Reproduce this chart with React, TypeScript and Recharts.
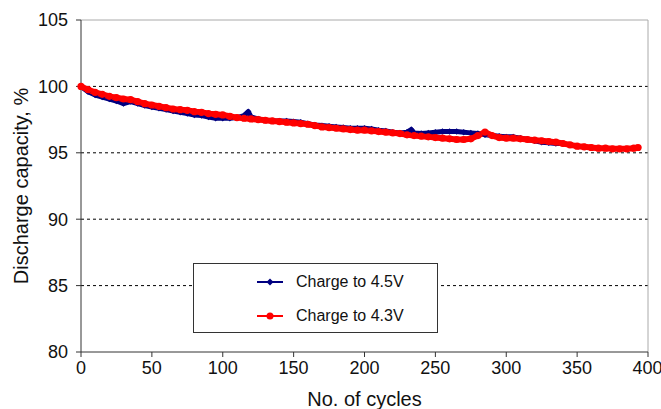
import React from "react";
import {
  LineChart,
  Line,
  XAxis,
  YAxis,
  ReferenceLine,
  Legend,
} from "recharts";

const FONT = "'Liberation Sans', Arial, sans-serif";
const BLUE = "#000080";
const RED = "#ff0000";

// cycle numbers and discharge capacity (%)
const blueCycles = [
  0, 5, 10, 15, 20, 25, 30, 35, 40, 45, 50, 55, 60, 65, 70, 75, 80, 85, 90, 95,
  100, 105, 110, 115, 118, 120, 125, 130, 135, 140, 145, 150, 155, 160, 165, 170,
  175, 180, 185, 190, 195, 200, 205, 210, 215, 220, 225, 230, 233, 235, 240, 245,
  250, 255, 260, 265, 270, 275, 280, 285, 290, 295, 300, 305, 310, 315, 320, 325,
  330, 335, 340,
];
const blueValues = [
  100.0, 99.6, 99.35, 99.2, 99.05, 98.9, 98.7, 98.85, 98.7, 98.55, 98.45, 98.35,
  98.25, 98.15, 98.05, 97.95, 97.85, 97.8, 97.7, 97.6, 97.6, 97.6, 97.65, 97.8,
  98.1, 97.7, 97.55, 97.45, 97.4, 97.4, 97.4, 97.35, 97.3, 97.2, 97.1, 97.05, 97.0,
  96.95, 96.9, 96.85, 96.85, 96.85, 96.8, 96.7, 96.65, 96.55, 96.5, 96.55, 96.75,
  96.5, 96.45, 96.5, 96.55, 96.6, 96.6, 96.6, 96.55, 96.5, 96.45, 96.35, 96.3,
  96.25, 96.2, 96.2, 96.1, 96.0, 95.9, 95.8, 95.75, 95.7, 95.7,
];

const redCycles = [
  0, 5, 10, 15, 20, 25, 30, 35, 40, 45, 50, 55, 60, 65, 70, 75, 80, 85, 90, 95,
  100, 105, 110, 115, 120, 125, 130, 135, 140, 145, 150, 155, 160, 165, 170, 175,
  180, 185, 190, 195, 200, 205, 210, 215, 220, 225, 230, 235, 240, 245, 250, 255,
  260, 265, 270, 275, 280, 285, 290, 295, 300, 305, 310, 315, 320, 325, 330, 335,
  340, 345, 350, 355, 360, 365, 370, 375, 380, 385, 390, 393,
];
const redValues = [
  100.0, 99.75, 99.55, 99.4, 99.25, 99.15, 99.05, 99.0, 98.85, 98.7, 98.6, 98.5,
  98.4, 98.3, 98.25, 98.2, 98.1, 98.05, 97.95, 97.9, 97.85, 97.75, 97.65, 97.6,
  97.55, 97.5, 97.45, 97.4, 97.35, 97.3, 97.25, 97.2, 97.15, 97.05, 96.95, 96.9,
  96.85, 96.8, 96.75, 96.7, 96.7, 96.65, 96.6, 96.55, 96.5, 96.45, 96.35, 96.3,
  96.25, 96.2, 96.15, 96.1, 96.05, 96.0, 96.0, 96.05, 96.3, 96.55, 96.3, 96.15,
  96.1, 96.1, 96.05, 96.0, 95.95, 95.9, 95.85, 95.8, 95.7, 95.6, 95.5, 95.45, 95.4,
  95.35, 95.35, 95.3, 95.3, 95.3, 95.35, 95.4,
];

const xTicks = [0, 50, 100, 150, 200, 250, 300, 350, 400];
const yTicks = [80, 85, 90, 95, 100, 105];
const gridValues = [85, 90, 95, 100];

const blueData = blueCycles.map((x, i) => ({ x, y: blueValues[i] }));
const redData = redCycles.map((x, i) => ({ x, y: redValues[i] }));

function Diamond(props: any) {
  const { cx, cy, size = 3, fill = BLUE } = props;
  if (cx == null || cy == null) return null;
  return (
    <path
      d={`M${cx},${cy - size} L${cx + size},${cy} L${cx},${cy + size} L${cx - size},${cy} Z`}
      fill={fill}
    />
  );
}

function LegendBox() {
  const rows = [
    { label: "Charge to 4.5V", color: BLUE, shape: "diamond" },
    { label: "Charge to 4.3V", color: RED, shape: "circle" },
  ];
  return (
    <div
      style={{
        width: 243,
        height: 68,
        border: "1px solid #333",
        background: "#fff",
        fontFamily: FONT,
        fontSize: 16,
        color: "#111",
        position: "relative",
      }}
    >
      {rows.map((r, i) => (
        <div
          key={r.label}
          style={{
            position: "absolute",
            left: 62,
            top: 8 + i * 34,
            height: 20,
            display: "flex",
            alignItems: "center",
          }}
        >
          <svg width={28} height={10} style={{ marginRight: 12 }}>
            <line x1={1} y1={5} x2={27} y2={5} stroke={r.color} strokeWidth={2} />
            {r.shape === "diamond" ? (
              <Diamond cx={14} cy={5} size={3.5} fill={r.color} />
            ) : (
              <circle cx={14} cy={5} r={3.5} fill={r.color} />
            )}
          </svg>
          <span>{r.label}</span>
        </div>
      ))}
    </div>
  );
}

export default function App() {
  return (
    <div style={{ position: "absolute", left: 0, top: 0, background: "#fff" }}>
      <LineChart
        width={661}
        height={409}
        margin={{ top: 20, right: 13, bottom: 0, left: 0 }}
      >
        <XAxis
          dataKey="x"
          type="number"
          domain={[0, 400]}
          ticks={xTicks}
          height={57}
          tickSize={5}
          tickMargin={4}
          stroke="#333"
          tick={{ fill: "#111", fontSize: 18, fontFamily: FONT }}
          label={{
            value: "No. of cycles",
            position: "center",
            dy: 18,
            style: { fill: "#111", fontSize: 20, fontFamily: FONT },
          }}
        />
        <YAxis
          type="number"
          domain={[80, 105]}
          ticks={yTicks}
          width={81}
          tickSize={5}
          tickMargin={8}
          stroke="#333"
          tick={{ fill: "#111", fontSize: 18, fontFamily: FONT }}
          label={{
            value: "Discharge capacity, %",
            angle: -90,
            position: "center",
            dx: -20,
            style: { fill: "#111", fontSize: 20, fontFamily: FONT, textAnchor: "middle" },
          }}
        />
        {gridValues.map((v) => (
          <ReferenceLine key={v} y={v} stroke="#000" strokeDasharray="3 3" />
        ))}
        <ReferenceLine y={105} stroke="#aaa" />
        <ReferenceLine x={400} stroke="#aaa" />
        <Legend
          layout="vertical"
          align="center"
          verticalAlign="middle"
          wrapperStyle={{ left: 193, top: 263, width: 245 }}
          content={() => <LegendBox />}
        />
        <Line
          data={blueData}
          dataKey="y"
          name="Charge to 4.5V"
          stroke={BLUE}
          strokeWidth={5}
          strokeLinejoin="round"
          dot={<Diamond size={3.2} fill={BLUE} />}
          isAnimationActive={false}
        />
        <Line
          data={redData}
          dataKey="y"
          name="Charge to 4.3V"
          stroke={RED}
          strokeWidth={6}
          strokeLinejoin="round"
          dot={{ r: 3.6, fill: RED, stroke: "none" }}
          isAnimationActive={false}
        />
      </LineChart>
    </div>
  );
}
